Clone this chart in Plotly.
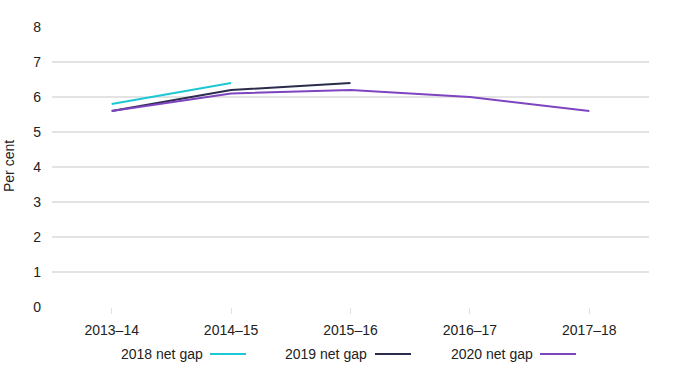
import plotly.graph_objects as go

categories = ["2013–14", "2014–15", "2015–16", "2016–17", "2017–18"]
gap_2018 = [5.8, 6.4, None, None, None]
gap_2019 = [5.6, 6.2, 6.4, None, None]
gap_2020 = [5.6, 6.1, 6.2, 6.0, 5.6]
series_names = ["2018 net gap", "2019 net gap", "2020 net gap"]
colors = ["#1cc8d4", "#2b2c4c", "#7d45bf"]
y_ticks = [0, 1, 2, 3, 4, 5, 6, 7, 8]
y_title = "Per cent"

FONT = "Liberation Sans, Arial, sans-serif"

fig = go.Figure()
for name, vals, col in zip(series_names, [gap_2018, gap_2019, gap_2020], colors):
    fig.add_trace(go.Scatter(x=categories, y=vals, name=name, mode="lines",
                             line=dict(color=col, width=2), connectgaps=False,
                             showlegend=False))

# page body margin is removed via post_script, so screen px == figure px
# desired plot area on screen: x 52..649, y 27..307
W, H = 690, 380
L, T = 52, 27
R = W - 649
B = H - 307
pw, ph = W - L - R, H - T - B

def px(x):
    return (x - L) / pw

def py(y):
    return (H - B - y) / ph

# manual legend: text followed by line sample (screen px)
legend_items = [(205, 210, 246), (369, 375, 411), (535, 540, 576)]
ly = 354
for (tx, x0, x1), name, col in zip(legend_items, series_names, colors):
    fig.add_annotation(x=px(tx), y=py(ly), xref="paper", yref="paper",
                       text=name, showarrow=False, xanchor="right", yanchor="middle",
                       font=dict(family=FONT, size=14, color="#222222"))
    fig.add_shape(type="line", xref="paper", yref="paper",
                  x0=px(x0), x1=px(x1), y0=py(ly), y1=py(ly),
                  line=dict(color=col, width=2))

# y-axis title as rotated annotation
fig.add_annotation(x=px(9), y=py(166), xref="paper", yref="paper",
                   text=y_title, textangle=-90, showarrow=False,
                   xanchor="center", yanchor="middle",
                   font=dict(family=FONT, size=14, color="#222222"))

fig.update_layout(
    width=W, height=H,
    margin=dict(l=L, r=R, t=T, b=B),
    plot_bgcolor="white", paper_bgcolor="white",
    font=dict(family=FONT, size=14, color="#222222"),
    showlegend=False,
)
fig.update_xaxes(
    type="category", range=[-0.5, 4.5], showgrid=False, showline=False,
    ticks="outside", ticklen=6, tickcolor="#e0e0e0", tickwidth=1,
    ticklabelstandoff=4,
    tickfont=dict(size=14, color="#222222"), zeroline=False, automargin=False,
)
fig.update_yaxes(
    range=[0, 8], tickvals=y_ticks, showgrid=True, gridcolor="#e3e3e3", gridwidth=1.5,
    zeroline=False, showline=False, ticks="", ticklabelstandoff=10,
    tickfont=dict(size=14, color="#222222"), automargin=False,
)

fig.write_html("out.html", config={"displayModeBar": False},
               post_script="document.body.style.margin='0';")
